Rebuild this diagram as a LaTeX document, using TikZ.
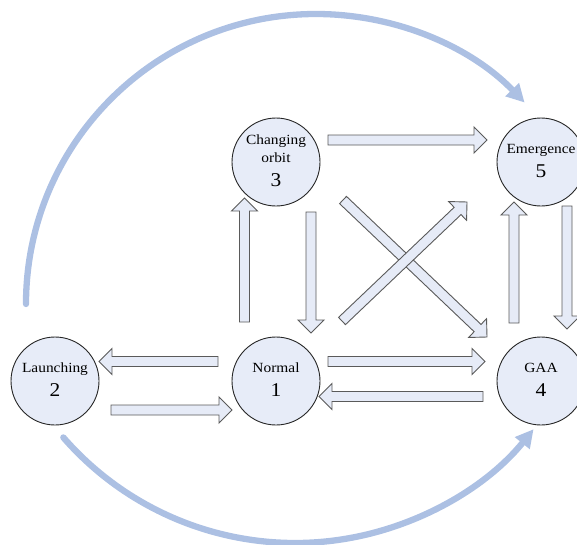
\documentclass[tikz,border=0pt]{standalone}
\usepackage{fontspec}
\setmainfont{Liberation Serif}
\newfontfamily\lblfont[FakeStretch=1.1]{Liberation Serif}
\usetikzlibrary{arrows.meta,calc}
\definecolor{circfill}{RGB}{231,236,248}
\definecolor{arrfill}{RGB}{230,235,247}
\definecolor{curvecol}{RGB}{172,192,227}
\definecolor{arroutline}{RGB}{90,90,90}
\newdimen\baxa \newdimen\baya \newdimen\baxb \newdimen\bayb
\newcommand\blockarrow[2]{%
  \pgfextractx{\baxa}{\pgfpointanchor{#1}{center}}%
  \pgfextracty{\baya}{\pgfpointanchor{#1}{center}}%
  \pgfextractx{\baxb}{\pgfpointanchor{#2}{center}}%
  \pgfextracty{\bayb}{\pgfpointanchor{#2}{center}}%
  \pgfmathsetmacro\baang{atan2(\bayb-\baya,\baxb-\baxa)}%
  \pgfmathsetmacro\balen{veclen(\baxb-\baxa,\bayb-\baya)}%
  \begin{scope}[shift={(#1)},rotate=\baang]
    \draw[blockarr] (0pt,-5pt) -- ({\balen pt-13pt},-5pt) -- ({\balen pt-13pt},-13pt)
      -- ({\balen pt},0pt) -- ({\balen pt-13pt},13pt) -- ({\balen pt-13pt},5pt)
      -- (0pt,5pt) -- cycle;
  \end{scope}}
\tikzset{
  state/.style={circle, draw=black!85, line width=0.9pt, fill=circfill, minimum size=88pt, inner sep=0pt},
  lbl/.style={anchor=base, inner sep=0pt, font=\lblfont\fontsize{14}{14}\selectfont},
  num/.style={anchor=base, inner sep=0pt, font=\lblfont\fontsize{19.5}{19.5}\selectfont},
  blockarr/.style={draw=arroutline, line width=0.9pt, fill=arrfill, line join=miter},
  curvearr/.style={draw=curvecol, line width=6.3pt, line cap=round, -{Triangle[length=18pt,width=18pt]}}
}
\begin{document}
\begin{tikzpicture}[x=1pt,y=-1pt]
\useasboundingbox (0,0) rectangle (577,544);
\clip (0,0) rectangle (577,544);
% curved arrows
\coordinate (topstart) at (26,304);
\coordinate (botstart) at (63.3,437.4);
\draw[curvearr] (topstart) arc[start angle=180, end angle=316, radius=290];
\draw[curvearr] (botstart) arc[start angle=139, end angle=39, radius=307];
% states
\node[state] (s3) at (276,162) {};
\node[state] (s5) at (541,162) {};
\node[state] (s2) at (55,381) {};
\node[state] (s1) at (276,381) {};
\node[state] (s4) at (541,381) {};
\node[lbl] (t3a) at (276,144.5) {Changing};
\node[lbl] (t3b) at (276,162.5) {orbit};
\node[num] (n3) at (276,186.5) {3};
\node[lbl] (t5) at (541,153.5) {Emergence};
\node[num] (n5) at (541,177.5) {5};
\node[lbl] (t2) at (55,372.5) {Launching};
\node[num] (n2) at (55,396.5) {2};
\node[lbl] (t1) at (276,372.5) {Normal};
\node[num] (n1) at (276,396.5) {1};
\node[lbl] (t4) at (541,372.5) {GAA};
\node[num] (n4) at (541,396.5) {4};
% block arrow end points
\coordinate (a35s) at (328,140);   \coordinate (a35e) at (487,140);
\coordinate (a13s) at (244.5,322); \coordinate (a13e) at (244.5,198);
\coordinate (a31s) at (311,212);   \coordinate (a31e) at (311,333);
\coordinate (a45s) at (514,323);   \coordinate (a45e) at (514,202);
\coordinate (a54s) at (567,206);   \coordinate (a54e) at (567,329);
\coordinate (a12s) at (218,361.5); \coordinate (a12e) at (99,361.5);
\coordinate (a21s) at (111,410);   \coordinate (a21e) at (232,410);
\coordinate (a14s) at (328,361.5); \coordinate (a14e) at (485,361.5);
\coordinate (a41s) at (483,396.5); \coordinate (a41e) at (319,396.5);
\coordinate (a34s) at (343,200);   \coordinate (a34e) at (487,337);
\coordinate (a15s) at (342,321);   \coordinate (a15e) at (467,202);
\blockarrow{a35s}{a35e}
\blockarrow{a13s}{a13e}
\blockarrow{a31s}{a31e}
\blockarrow{a45s}{a45e}
\blockarrow{a54s}{a54e}
\blockarrow{a12s}{a12e}
\blockarrow{a21s}{a21e}
\blockarrow{a14s}{a14e}
\blockarrow{a41s}{a41e}
\blockarrow{a34s}{a34e}
\blockarrow{a15s}{a15e}
\end{tikzpicture}
\end{document}
